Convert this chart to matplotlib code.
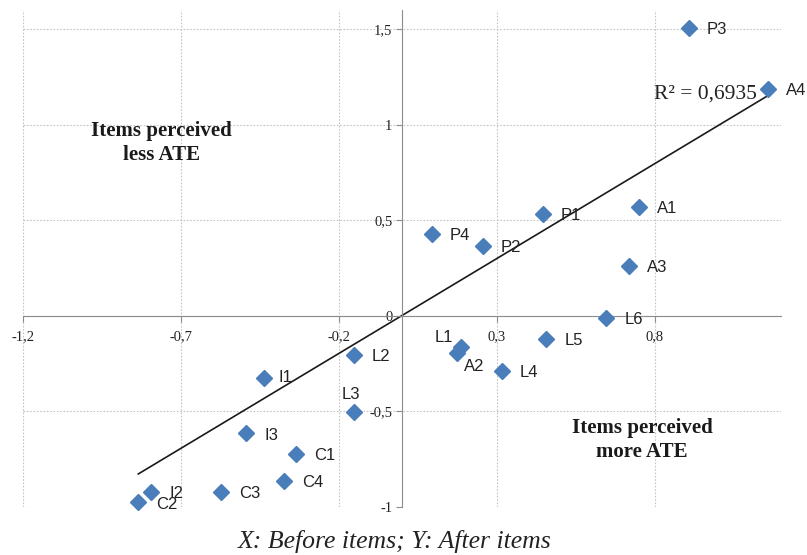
import numpy as np
import matplotlib
matplotlib.use('Agg')
import matplotlib.pyplot as plt
from matplotlib.ticker import FuncFormatter

# item scores (X: before, Y: after)
labels = ['P3', 'A4', 'P1', 'A1', 'P4', 'P2', 'A3', 'L6', 'L5', 'L1', 'A2', 'L4',
          'L2', 'L3', 'I1', 'I3', 'C1', 'C4', 'C3', 'I2', 'C2']
x_before = [0.908, 1.158, 0.446, 0.750, 0.095, 0.256, 0.718, 0.646, 0.456, 0.187, 0.174, 0.316,
            -0.152, -0.152, -0.437, -0.494, -0.335, -0.373, -0.573, -0.794, -0.835]
y_after = [1.508, 1.188, 0.534, 0.571, 0.429, 0.366, 0.262, -0.010, -0.120, -0.162, -0.194, -0.288,
           -0.204, -0.503, -0.325, -0.613, -0.722, -0.864, -0.921, -0.921, -0.974]
x_ticks = [-1.2, -0.7, -0.2, 0.3, 0.8]
y_ticks = [-1, -0.5, 0, 0.5, 1, 1.5]

# trend line as drawn in the source chart
trend_slope = 0.993
trend_intercept = 0.002
r2_text = 'R\u00b2 = 0,6935'

# label offsets in pixels (dx, dy, ha), default is to the right
offsets = {'L1': (-8, 9, 'right'), 'A2': (7, -14, 'left'), 'L3': (-3, 17, 'center'),
           'I1': (14, 0, 'left')}

fig = plt.figure(figsize=(8.07, 5.55), dpi=100)
ax = fig.add_axes([0.0285, 0.0865, 0.9395, 0.8955])

x = np.array(x_before)
y = np.array(y_after)

ax.set_xlim(-1.2, 1.2)
ax.set_ylim(-1.0, 1.6)
ax.set_xticks(x_ticks)
ax.set_yticks(y_ticks)

comma = FuncFormatter(lambda v, p: ('%g' % v).replace('.', ','))
ax.xaxis.set_major_formatter(comma)
ax.yaxis.set_major_formatter(comma)

ax.grid(True, color='#c4c4c4', linestyle=(0, (1.5, 1.5)), linewidth=0.8, zorder=0)
ax.set_axisbelow(True)

for s in ['top', 'right']:
    ax.spines[s].set_visible(False)
ax.spines['left'].set_position(('data', 0))
ax.spines['bottom'].set_position(('data', 0))
ax.spines['left'].set_color('#8c8c8c')
ax.spines['bottom'].set_color('#8c8c8c')
ax.tick_params(direction='out', length=4, color='#8c8c8c', width=0.8, pad=3)
ax.tick_params(axis='x', pad=6)
for t in ax.get_xticklabels() + ax.get_yticklabels():
    t.set_fontfamily('Liberation Serif')
    t.set_fontsize(10.5)
    t.set_color('#222222')

# linear trend line over the data range
xs = np.array([x.min(), x.max()])
ax.plot(xs, trend_slope * xs + trend_intercept, color='#1a1a1a', linewidth=1.2, zorder=2)

ax.plot(x, y, linestyle='none', marker='D', markersize=8.5, color='#4a7ebb',
        markeredgecolor='#4a7ebb', zorder=3, clip_on=False)

for lab, xi, yi in zip(labels, x, y):
    dx, dy, ha = offsets.get(lab, (18, -2, 'left'))
    ax.annotate(lab, (xi, yi), xytext=(dx, dy), textcoords='offset pixels',
                ha=ha, va='center', fontsize=12, family='Liberation Sans',
                color='#222222', zorder=4)

ax.text(0.797, 1.16, r2_text, ha='left', va='center', fontsize=15.5,
        family='Liberation Serif', color='#222222')
ax.text(-0.763, 0.905, 'Items perceived\nless ATE', ha='center', va='center',
        fontsize=15, family='Liberation Serif', fontweight='bold',
        linespacing=1.3, color='#1a1a1a')
ax.text(0.76, -0.65, 'Items perceived\nmore ATE', ha='center', va='center',
        fontsize=15, family='Liberation Serif', fontweight='bold',
        linespacing=1.3, color='#1a1a1a')

fig.text(0.489, 0.025, 'X: Before items; Y: After items', ha='center', va='center',
         fontsize=18.5, family='Liberation Serif', style='italic', color='#222222')

plt.savefig('out.png', dpi=100)
